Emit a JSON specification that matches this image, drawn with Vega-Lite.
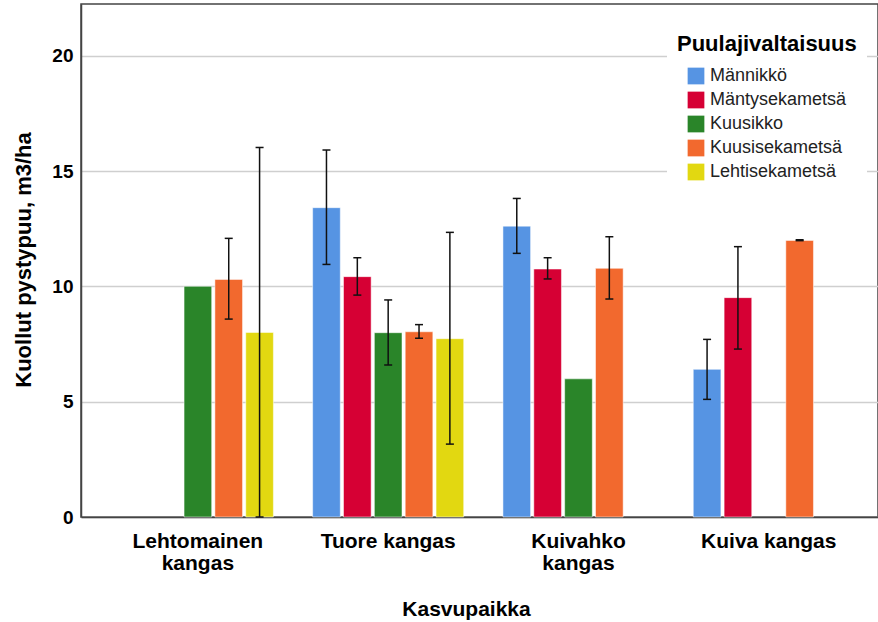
{
  "$schema": "https://vega.github.io/schema/vega-lite/v6.json",
  "width": 797,
  "height": 513,
  "autosize": {"type": "none"},
  "padding": {"left": 81, "top": 4, "right": 0, "bottom": 105},
  "background": "white",
  "config": {
    "font": "Liberation Sans",
    "view": {"stroke": "#444444", "strokeWidth": 1.5}
  },
  "datasets": {
    "bars": [
      {"k": "Lehtomainen kangas", "p": "Kuusikko", "v": 10.0},
      {"k": "Lehtomainen kangas", "p": "Kuusisekametsä", "v": 10.3},
      {"k": "Lehtomainen kangas", "p": "Lehtisekametsä", "v": 8.0},
      {"k": "Tuore kangas", "p": "Männikkö", "v": 13.41},
      {"k": "Tuore kangas", "p": "Mäntysekametsä", "v": 10.42},
      {"k": "Tuore kangas", "p": "Kuusikko", "v": 7.99},
      {"k": "Tuore kangas", "p": "Kuusisekametsä", "v": 8.03},
      {"k": "Tuore kangas", "p": "Lehtisekametsä", "v": 7.73},
      {"k": "Kuivahko kangas", "p": "Männikkö", "v": 12.61},
      {"k": "Kuivahko kangas", "p": "Mäntysekametsä", "v": 10.75},
      {"k": "Kuivahko kangas", "p": "Kuusikko", "v": 5.99},
      {"k": "Kuivahko kangas", "p": "Kuusisekametsä", "v": 10.78},
      {"k": "Kuiva kangas", "p": "Männikkö", "v": 6.4},
      {"k": "Kuiva kangas", "p": "Mäntysekametsä", "v": 9.51},
      {"k": "Kuiva kangas", "p": "Kuusisekametsä", "v": 11.99}
    ],
    "errs": [
      {"k": "Lehtomainen kangas", "p": "Kuusisekametsä", "lo": 8.58, "hi": 12.08},
      {"k": "Lehtomainen kangas", "p": "Lehtisekametsä", "lo": 0, "hi": 16.02},
      {"k": "Tuore kangas", "p": "Männikkö", "lo": 10.95, "hi": 15.91},
      {"k": "Tuore kangas", "p": "Mäntysekametsä", "lo": 9.62, "hi": 11.24},
      {"k": "Tuore kangas", "p": "Kuusikko", "lo": 6.59, "hi": 9.41},
      {"k": "Tuore kangas", "p": "Kuusisekametsä", "lo": 7.75, "hi": 8.34},
      {"k": "Tuore kangas", "p": "Lehtisekametsä", "lo": 3.16, "hi": 12.34},
      {"k": "Kuivahko kangas", "p": "Männikkö", "lo": 11.43, "hi": 13.81},
      {"k": "Kuivahko kangas", "p": "Mäntysekametsä", "lo": 10.32, "hi": 11.24},
      {"k": "Kuivahko kangas", "p": "Kuusisekametsä", "lo": 9.45, "hi": 12.15},
      {"k": "Kuiva kangas", "p": "Männikkö", "lo": 5.1, "hi": 7.7},
      {"k": "Kuiva kangas", "p": "Mäntysekametsä", "lo": 7.28, "hi": 11.72},
      {"k": "Kuiva kangas", "p": "Kuusisekametsä", "lo": 11.98, "hi": 12.02}
    ]
  },
  "encoding": {
    "x": {
      "field": "k",
      "type": "nominal",
      "sort": ["Lehtomainen kangas", "Tuore kangas", "Kuivahko kangas", "Kuiva kangas"],
      "scale": {"domain": ["Lehtomainen kangas", "Tuore kangas", "Kuivahko kangas", "Kuiva kangas"], "paddingInner": 0, "paddingOuter": 0.094, "align": 0.607},
      "axis": {
        "title": "Kasvupaikka",
        "titleFontSize": 21,
        "titleFontWeight": "bold",
        "titleColor": "#000000",
        "titleX": 385,
        "titleY": 98,
        "titleBaseline": "alphabetic",
        "labelFontSize": 21,
        "labelFontWeight": "bold",
        "labelColor": "#000000",
        "labelPadding": 13,
        "labelLineHeight": 22,
        "labelAngle": 0,
        "labelLimit": 300,
        "ticks": false,
        "domain": true,
        "domainColor": "#444444",
        "domainWidth": 1.5,
        "labelExpr": "(datum.label == 'Tuore kangas' || datum.label == 'Kuiva kangas') ? datum.label : split(datum.label, ' ')"
      }
    },
    "xOffset": {
      "field": "p",
      "type": "nominal",
      "scale": {"domain": ["Männikkö", "Mäntysekametsä", "Kuusikko", "Kuusisekametsä", "Lehtisekametsä"], "paddingInner": 0.104, "paddingOuter": 0.636}
    }
  },
  "layer": [
    {
      "data": {"name": "bars"},
      "mark": {"type": "bar", "stroke": "#ffffff", "strokeWidth": 1, "strokeOpacity": 0.5},
      "encoding": {
        "y": {
          "field": "v",
          "type": "quantitative",
          "scale": {"domain": [0, 22.24], "nice": false},
          "axis": {
            "title": "Kuollut pystypuu, m3/ha",
            "titleFontSize": 22,
            "titleFontWeight": "bold",
            "titleColor": "#000000",
            "titleX": -51,
            "titleY": 255.5,
            "titleAngle": 270,
            "titleAlign": "center",
            "titleBaseline": "alphabetic",
            "values": [0, 5, 10, 15, 20],
            "labelFontSize": 19,
            "labelFontWeight": "bold",
            "labelColor": "#000000",
            "labelPadding": 8,
            "ticks": false,
            "grid": true,
            "gridColor": "#cfcfcf",
            "gridWidth": 1.5,
            "domain": true,
            "domainColor": "#444444",
            "domainWidth": 1.5
          }
        },
        "color": {
          "field": "p",
          "type": "nominal",
          "scale": {
            "domain": ["Männikkö", "Mäntysekametsä", "Kuusikko", "Kuusisekametsä", "Lehtisekametsä"],
            "range": ["#5694E3", "#D60034", "#2A8529", "#F2692E", "#E2D811"]
          },
          "legend": {
            "title": "Puulajivaltaisuus",
            "orient": "none",
            "legendX": 586,
            "legendY": 20,
            "fillColor": "#ffffff",
            "padding": 10,
            "titleFontSize": 22,
            "titleFontWeight": "bold",
            "titleColor": "#000000",
            "titlePadding": 11,
            "labelFontSize": 18,
            "labelColor": "#222222",
            "symbolType": "square",
            "symbolSize": 280,
            "symbolStrokeWidth": 0,
            "symbolOpacity": 1,
            "symbolOffset": 10,
            "labelOffset": 5,
            "rowPadding": 6
          }
        }
      }
    },
    {
      "data": {"name": "errs"},
      "mark": {"type": "rule", "color": "#111111", "strokeWidth": 1.5},
      "encoding": {
        "y": {"field": "lo", "type": "quantitative"},
        "y2": {"field": "hi"}
      }
    },
    {
      "data": {"name": "errs"},
      "mark": {"type": "tick", "color": "#111111", "thickness": 1.5, "size": 8, "opacity": 1},
      "encoding": {
        "y": {"field": "lo", "type": "quantitative"}
      }
    },
    {
      "data": {"name": "errs"},
      "mark": {"type": "tick", "color": "#111111", "thickness": 1.5, "size": 8, "opacity": 1},
      "encoding": {
        "y": {"field": "hi", "type": "quantitative"}
      }
    }
  ]
}
